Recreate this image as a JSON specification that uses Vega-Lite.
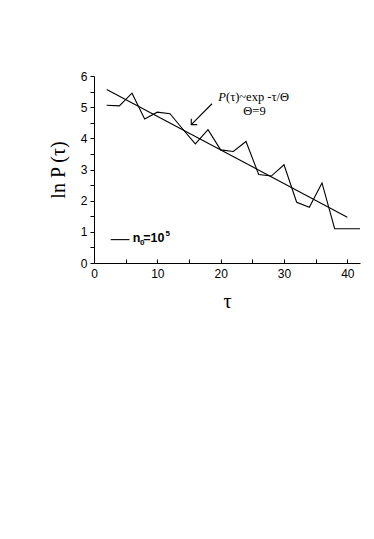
{
  "$schema": "https://vega.github.io/schema/vega-lite/v6.json",
  "width": 266,
  "height": 187,
  "autosize": {"type": "none"},
  "padding": {"left": 94, "top": 76, "right": 14, "bottom": 276},
  "background": "white",
  "config": {
    "view": {"stroke": null},
    "axis": {
      "domainColor": "black",
      "tickColor": "black",
      "labelColor": "black",
      "titleColor": "black",
      "grid": false,
      "labelFont": "Liberation Sans",
      "labelFontSize": 12,
      "labelBound": false,
      "labelFlush": false,
      "titleFont": "Liberation Serif",
      "titleFontWeight": "normal",
      "titleFontSize": 20
    }
  },
  "datasets": {
    "obs": [
      {"x": 2, "y": 5.06}, {"x": 4, "y": 5.04}, {"x": 6, "y": 5.45},
      {"x": 8, "y": 4.62}, {"x": 10, "y": 4.84}, {"x": 12, "y": 4.79},
      {"x": 14, "y": 4.3}, {"x": 16, "y": 3.82}, {"x": 18, "y": 4.28},
      {"x": 20, "y": 3.63}, {"x": 22, "y": 3.58}, {"x": 24, "y": 3.9},
      {"x": 26, "y": 2.84}, {"x": 28, "y": 2.79}, {"x": 30, "y": 3.15},
      {"x": 32, "y": 1.95}, {"x": 34, "y": 1.79}, {"x": 36, "y": 2.57},
      {"x": 38, "y": 1.1}, {"x": 40, "y": 1.1}, {"x": 42, "y": 1.1}
    ],
    "fit": [{"x": 2, "y": 5.57}, {"x": 40, "y": 1.47}],
    "legline": [{"x": 2.64, "y": 0.75}, {"x": 5.6, "y": 0.75}]
  },
  "encoding": {
    "x": {
      "field": "x", "type": "quantitative",
      "scale": {"domain": [0, 42], "nice": false, "zero": false},
      "axis": {
        "title": "τ",
        "values": [0, 5, 10, 15, 20, 25, 30, 35, 40],
        "labelExpr": "datum.value % 10 === 0 ? format(datum.value, 'd') : ''",
        "labelOverlap": false,
        "tickSize": -4,
        "labelPadding": 9,
        "titlePadding": 12
      }
    },
    "y": {
      "field": "y", "type": "quantitative",
      "scale": {"domain": [0, 6], "nice": false},
      "axis": {
        "title": "ln P (τ)",
        "values": [0, 0.5, 1, 1.5, 2, 2.5, 3, 3.5, 4, 4.5, 5, 5.5, 6],
        "labelExpr": "datum.value % 1 === 0 ? format(datum.value, 'd') : ''",
        "labelOverlap": false,
        "tickSize": 4,
        "labelPadding": 3,
        "titlePadding": 12
      }
    }
  },
  "layer": [
    {
      "data": {"name": "obs"},
      "mark": {"type": "line", "color": "black", "strokeWidth": 1.1}
    },
    {
      "data": {"name": "fit"},
      "mark": {"type": "line", "color": "black", "strokeWidth": 1.1}
    },
    {
      "data": {"name": "legline"},
      "mark": {"type": "line", "color": "black", "strokeWidth": 1.1}
    },
    {
      "data": {"values": [{"x": 6.12, "y": 0.66, "t": "n"}, {"x": 7.78, "y": 0.66, "t": "=10"}]},
      "mark": {"type": "text", "align": "left", "baseline": "alphabetic", "font": "Liberation Sans", "fontWeight": "bold", "fontSize": 12.5, "color": "black"},
      "encoding": {"text": {"field": "t"}}
    },
    {
      "data": {"values": [{"x": 7.25, "y": 0.57, "t": "0"}, {"x": 11.3, "y": 0.88, "t": "5"}]},
      "mark": {"type": "text", "align": "left", "baseline": "alphabetic", "font": "Liberation Sans", "fontWeight": "bold", "fontSize": 8, "color": "black"},
      "encoding": {"text": {"field": "t"}}
    },
    {
      "data": {"values": [{"x": 20.84, "y": 5.19, "t": "P"}]},
      "mark": {"type": "text", "align": "right", "baseline": "alphabetic", "font": "Liberation Serif", "fontStyle": "italic", "fontSize": 12.5, "color": "black"},
      "encoding": {"text": {"field": "t"}}
    },
    {
      "data": {"values": [{"x": 20.84, "y": 5.19, "t": "(τ)~exp -τ/Θ"}]},
      "mark": {"type": "text", "align": "left", "baseline": "alphabetic", "font": "Liberation Serif", "fontSize": 12.5, "color": "black"},
      "encoding": {"text": {"field": "t"}}
    },
    {
      "data": {"values": [{"x": 25.34, "y": 4.76, "t": "Θ=9"}]},
      "mark": {"type": "text", "align": "center", "baseline": "alphabetic", "font": "Liberation Serif", "fontSize": 12.5, "color": "black"},
      "encoding": {"text": {"field": "t"}}
    },
    {
      "data": {"values": [{"x": 18.63, "y": 5.11, "x2": 15.36, "y2": 4.44}]},
      "mark": {"type": "rule", "color": "black", "strokeWidth": 1.1},
      "encoding": {
        "x2": {"field": "x2"},
        "y2": {"field": "y2"}
      }
    },
    {
      "data": {"values": [{"x": 15.36, "y": 4.44}]},
      "mark": {"type": "point", "shape": "M-1,1L0,0L1,1", "angle": 225, "size": 70, "filled": false, "color": "black", "strokeWidth": 1.1, "opacity": 1}
    }
  ]
}
